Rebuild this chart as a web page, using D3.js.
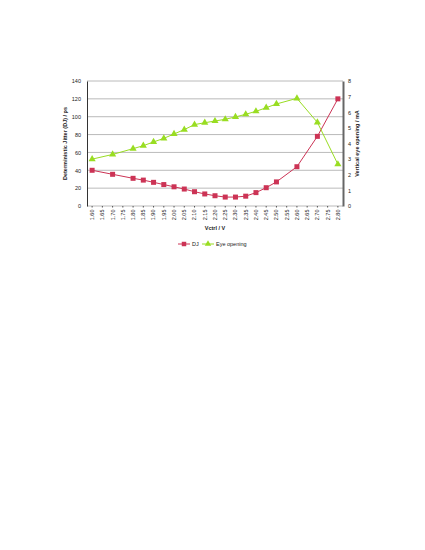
<!DOCTYPE html>
<html>
<head>
<meta charset="utf-8">
<script src="https://cdn.jsdelivr.net/npm/d3@7"></script>
<style>
  body { margin: 0; background: #fff; }
  svg { display: block; font-family: "Liberation Sans", Arial, sans-serif; }
</style>
</head>
<body>
<div id="chart"></div>
<script>
const WIDTH = 425;
const HEIGHT = 550;
const LEFT = 87, RIGHT = 343, TOP = 81, BOTTOM = 206;

// categories on the x axis (Vctrl / V)
const vctrl = ['1.60','1.65','1.70','1.75','1.80','1.85','1.90','1.95','2.00','2.05','2.10','2.15','2.20',
    '2.25','2.30','2.35','2.40','2.45','2.50','2.55','2.60','2.65','2.70','2.75','2.80'];

// measured points (gaps where there is no measurement)
const pointX = ['1.60','1.70','1.80','1.85','1.90','1.95','2.00','2.05','2.10','2.15','2.20','2.25','2.30',
    '2.35','2.40','2.45','2.50','2.60','2.70','2.80'];
const djValues = [40, 35.5, 31, 29, 26.5, 24, 21.5, 19, 16, 13.5, 11.5, 10, 10, 11, 15, 20.5, 27, 44, 78, 120];
const eyeValues = [3.0, 3.3, 3.67, 3.86, 4.1, 4.33, 4.61, 4.89, 5.21, 5.33, 5.44, 5.55, 5.7, 5.87, 6.06,
    6.29, 6.53, 6.89, 5.35, 2.67];

const leftTicks = [0, 20, 40, 60, 80, 100, 120, 140];
const rightTicks = [0, 1, 2, 3, 4, 5, 6, 7, 8];

const RED = '#cc3355';
const GREEN = '#99dd22';

const svg = d3.select('#chart')
    .append('svg')
        .attr('width', WIDTH)
        .attr('height', HEIGHT);

const x = d3.scaleBand().domain(vctrl).range([LEFT, RIGHT]);
const cx = d => x(d) + x.bandwidth() / 2;
const yL = d3.scaleLinear().domain([0, 140]).range([BOTTOM, TOP]);
const yR = d3.scaleLinear().domain([0, 8]).range([BOTTOM, TOP]);

// gridlines
svg.append('g')
    .selectAll('line')
    .data(leftTicks)
    .join('line')
        .attr('x1', LEFT).attr('x2', RIGHT)
        .attr('y1', d => yL(d)).attr('y2', d => yL(d))
        .attr('stroke', '#a8a8a8')
        .attr('stroke-width', 0.8);

// left axis
const gl = svg.append('g')
    .attr('transform', `translate(${LEFT},0)`)
    .call(d3.axisLeft(yL).tickValues(leftTicks).tickSize(0).tickPadding(6));
gl.select('.domain').attr('stroke', '#333').attr('stroke-width', 1);
gl.selectAll('text').attr('font-size', 5.5).attr('fill', '#222');

// right axis
const gr = svg.append('g')
    .attr('transform', `translate(${RIGHT},0)`)
    .call(d3.axisRight(yR).tickValues(rightTicks).tickSize(0).tickPadding(5));
gr.select('.domain').attr('stroke', '#666').attr('stroke-width', 2);
gr.selectAll('text').attr('font-size', 5.5).attr('fill', '#222');

// x axis
const gx = svg.append('g')
    .attr('transform', `translate(0,${BOTTOM})`)
    .call(d3.axisBottom(x).tickSize(1.5).tickPadding(3));
gx.select('.domain').remove();
gx.selectAll('line').attr('stroke', '#555');
gx.selectAll('text')
    .attr('font-size', 5.5)
    .attr('fill', '#222')
    .attr('transform', 'rotate(-90)')
    .attr('text-anchor', 'end')
    .attr('dx', 0)
    .attr('dy', '0.35em')
    .attr('y', 0)
    .attr('x', -3.5);

// axis titles
svg.append('text')
    .attr('transform', `translate(67,${(TOP + BOTTOM) / 2}) rotate(-90)`)
    .attr('text-anchor', 'middle')
    .attr('font-size', 5.5)
    .attr('font-weight', 'bold')
    .attr('fill', '#222')
    .text('Deterministic Jitter (DJ) / ps');

svg.append('text')
    .attr('transform', `translate(359,${(TOP + BOTTOM) / 2}) rotate(-90)`)
    .attr('text-anchor', 'middle')
    .attr('font-size', 5.5)
    .attr('font-weight', 'bold')
    .attr('fill', '#222')
    .text('Vertical eye opening / mA');

svg.append('text')
    .attr('x', 215)
    .attr('y', 230)
    .attr('text-anchor', 'middle')
    .attr('font-size', 5.5)
    .attr('font-weight', 'bold')
    .attr('fill', '#222')
    .text('Vctrl / V');

// series
const djData = pointX.map((k, i) => ({ k, v: djValues[i] }));
const eyeData = pointX.map((k, i) => ({ k, v: eyeValues[i] }));

svg.append('path')
    .datum(djData)
    .attr('fill', 'none')
    .attr('stroke', RED)
    .attr('stroke-width', 1)
    .attr('d', d3.line().x(d => cx(d.k)).y(d => yL(d.v)));

svg.append('path')
    .datum(eyeData)
    .attr('fill', 'none')
    .attr('stroke', GREEN)
    .attr('stroke-width', 1)
    .attr('d', d3.line().x(d => cx(d.k)).y(d => yR(d.v)));

svg.append('g')
    .selectAll('rect')
    .data(djData)
    .join('rect')
        .attr('x', d => cx(d.k) - 2.5)
        .attr('y', d => yL(d.v) - 2.5)
        .attr('width', 5)
        .attr('height', 5)
        .attr('fill', RED);

const tri = d3.symbol().type(d3.symbolTriangle).size(22);
svg.append('g')
    .selectAll('path')
    .data(eyeData)
    .join('path')
        .attr('d', tri)
        .attr('transform', d => `translate(${cx(d.k)},${yR(d.v)})`)
        .attr('fill', GREEN);

// legend
const legend = svg.append('g').attr('transform', 'translate(178,244)');
const items = [
    { name: 'DJ', color: RED, shape: 'square' },
    { name: 'Eye opening', color: GREEN, shape: 'triangle' }
];
const li = legend.selectAll('g')
    .data(items)
    .join('g')
        .attr('transform', (d, i) => `translate(${i * 24},0)`);
li.append('line')
    .attr('x1', 0).attr('x2', 12)
    .attr('stroke', d => d.color)
    .attr('stroke-width', 1);
li.append('path')
    .attr('transform', 'translate(6,0)')
    .attr('d', d => d.shape === 'square'
        ? d3.symbol().type(d3.symbolSquare).size(20)()
        : d3.symbol().type(d3.symbolTriangle).size(18)())
    .attr('fill', d => d.color);
li.append('text')
    .attr('x', 14)
    .attr('y', 2)
    .attr('font-size', 5.5)
    .attr('fill', '#222')
    .text(d => d.name);
</script>
</body>
</html>
